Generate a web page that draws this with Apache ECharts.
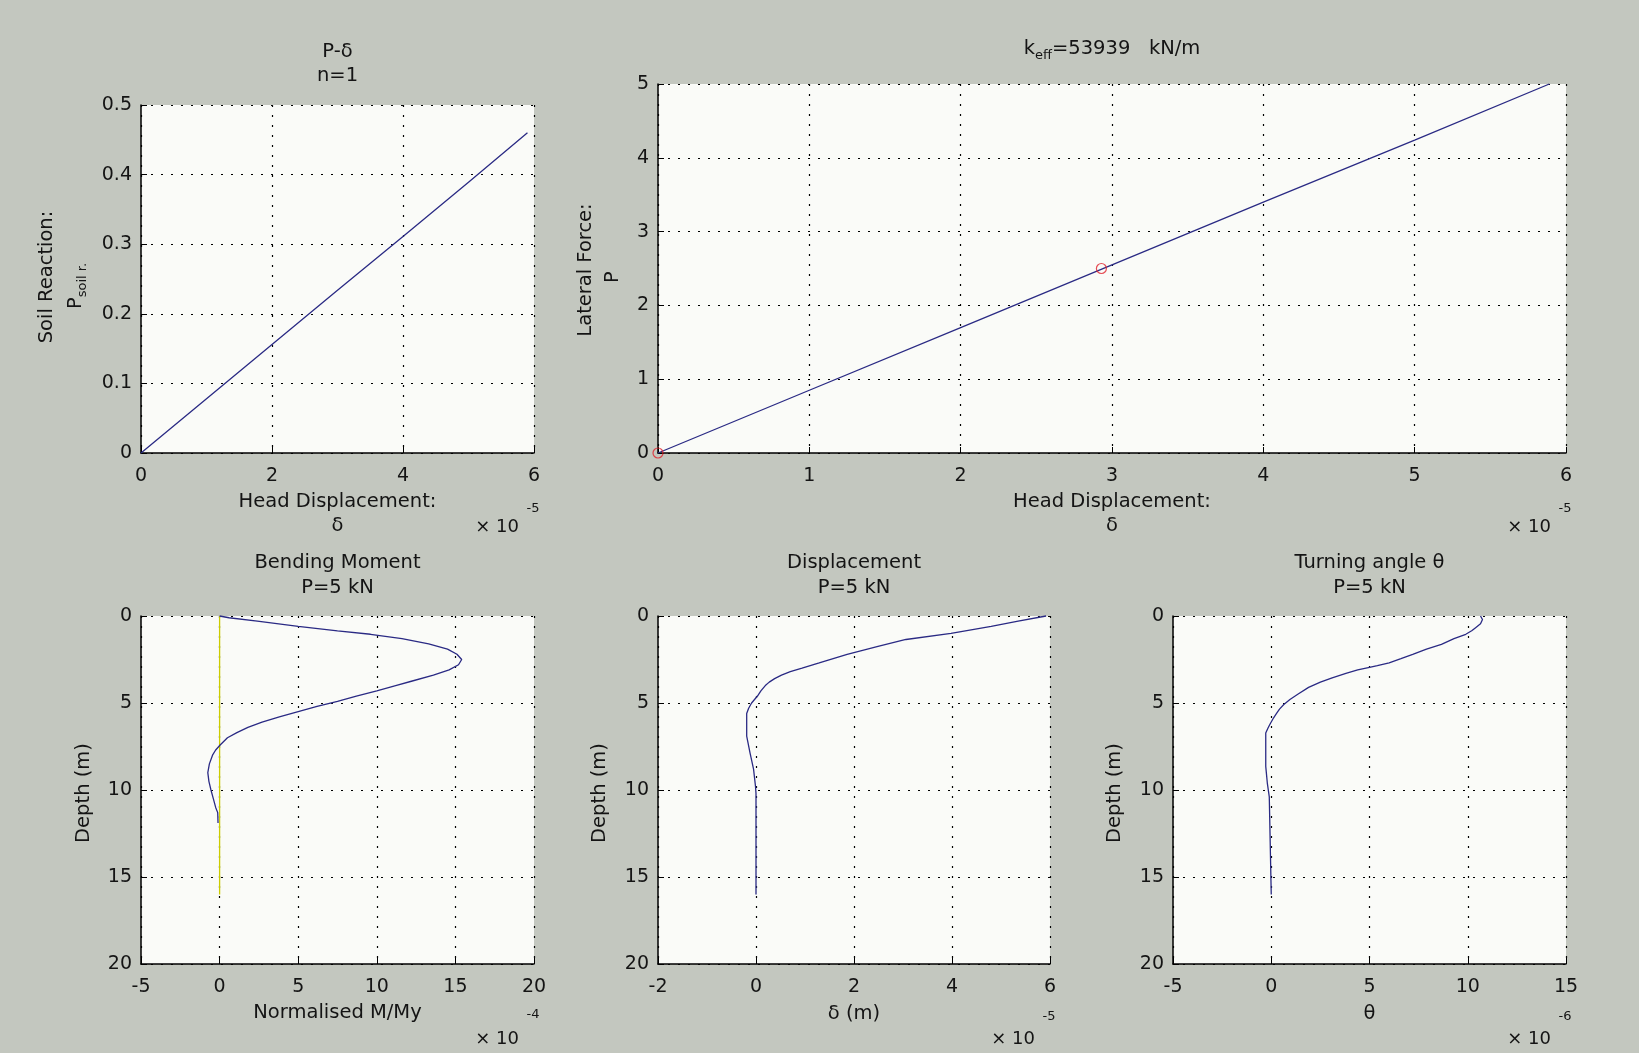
<!DOCTYPE html>
<html>
<head>
<meta charset="utf-8">
<script src="https://cdn.jsdelivr.net/npm/echarts@6/dist/echarts.min.js"></script>
<style>
  html, body { margin: 0; padding: 0; background: #c3c7bf; }
  #fig { width: 1639px; height: 1053px; }
</style>
</head>
<body>
<div id="fig"></div>
<script>
// ---- P-δ curve (δ in units of 1e-5 m) ----
const pdDelta = [0, 1, 2, 3, 4, 5, 5.9];
const pdSoil  = [0, 0.078, 0.156, 0.234, 0.311, 0.389, 0.46];

// ---- Lateral force vs head displacement (δ in units of 1e-5 m) ----
const lfDelta = [0, 1, 2, 3, 4, 5, 5.89];
const lfForce = [0, 0.85, 1.70, 2.55, 3.40, 4.24, 5.0];
const lfMarkDelta = [0, 2.93];
const lfMarkForce = [0, 2.5];

// ---- Bending moment along the pile (M/My in units of 1e-4) ----
const bmDepth  = [0, 0.1, 0.3, 0.6, 0.85, 1.05, 1.3, 1.6, 1.9, 2.2, 2.5, 2.8, 3.1, 3.4, 3.75, 4.0, 4.3, 4.6, 4.9, 5.2, 5.5, 5.8, 6.1, 6.4, 6.7, 7.0, 7.4, 7.7, 8.0, 8.5, 9.0, 9.5, 10.0, 10.5, 11.0, 11.3, 11.9];
const bmMoment = [0, 0.6, 2.4, 5.0, 7.5, 9.6, 11.6, 13.3, 14.5, 15.1, 15.4, 15.2, 14.6, 13.6, 12.2, 11.2, 10.0, 8.7, 7.5, 6.2, 5.0, 3.8, 2.7, 1.8, 1.1, 0.5, 0.05, -0.25, -0.45, -0.65, -0.75, -0.68, -0.55, -0.4, -0.25, -0.12, -0.1];
const pileDepth = [0, 16];
const pileAxis  = [0, 0];

// ---- Pile displacement (δ in units of 1e-5 m) ----
const dpDepth = [0, 0.3, 0.6, 1.0, 1.35, 1.75, 2.2, 2.7, 3.0, 3.2, 3.4, 3.6, 3.8, 4.0, 4.3, 4.6, 4.8, 5.0, 5.3, 5.6, 6.9, 7.9, 8.8, 9.8, 10.2, 16];
const dpDisp  = [5.92, 5.35, 4.8, 3.98, 3.06, 2.49, 1.86, 1.29, 0.94, 0.70, 0.52, 0.38, 0.27, 0.19, 0.10, 0.03, -0.03, -0.09, -0.15, -0.19, -0.19, -0.12, -0.05, -0.01, 0, 0];

// ---- Turning angle (θ in units of 1e-6) ----
const taDepth = [0, 0.2, 0.45, 0.67, 0.85, 1.05, 1.3, 1.63, 1.9, 2.2, 2.45, 2.69, 2.85, 2.95, 3.1, 3.3, 3.55, 3.8, 4.1, 4.5, 4.8, 5.09, 5.35, 5.6, 5.85, 6.05, 6.25, 6.45, 6.72, 8.64, 8.7, 9.6, 9.7, 10.4, 10.5, 16];
const taAngle = [10.65, 10.75, 10.65, 10.4, 10.2, 9.9, 9.3, 8.66, 7.9, 7.2, 6.6, 6.0, 5.4, 5.0, 4.4, 3.8, 3.1, 2.5, 1.9, 1.35, 0.95, 0.64, 0.42, 0.27, 0.12, 0.02, -0.08, -0.17, -0.28, -0.28, -0.2, -0.2, -0.1, -0.1, 0, 0];

// ---- axis ranges [min, max, interval] ----
const axPdX = [0, 6, 2],   axPdY = [0, 0.5, 0.1];
const axLfX = [0, 6, 1],   axLfY = [0, 5, 1];
const axBmX = [-5, 20, 5], axDepth = [0, 20, 5];
const axDpX = [-2, 6, 2];
const axTaX = [-5, 15, 5];

const FONT = 'DejaVu Sans';
const INK = '#141414';
const LINE = '#2a2a84';

function pairs(xs, ys) { return xs.map((x, i) => [x, ys[i]]); }

const grids = [
  { left: 141,  top: 105, width: 393, height: 348 },
  { left: 658,  top: 84,  width: 908, height: 369 },
  { left: 141,  top: 616, width: 393, height: 348 },
  { left: 658,  top: 616, width: 392, height: 348 },
  { left: 1173, top: 616, width: 393, height: 348 }
].map(g => Object.assign({
  show: true, backgroundColor: '#fafbf8', borderWidth: 0,
  containLabel: false, outerBoundsMode: 'none'
}, g));

function axisBase(gi, r) {
  return {
    type: 'value', gridIndex: gi, min: r[0], max: r[1], interval: r[2],
    axisLine: { show: true, onZero: false, lineStyle: { color: '#000', width: 1.5 } },
    axisTick: { show: true, inside: true, length: 6, lineStyle: { color: '#000', width: 1 } },
    axisLabel: { color: INK, fontFamily: FONT, fontSize: 19 },
    splitLine: { show: true, lineStyle: { color: '#000', width: 1.2, type: [2, 8] } }
  };
}
function xAxis(gi, r) {
  const a = axisBase(gi, r);
  a.position = 'bottom';
  a.axisLabel.margin = 14;
  return a;
}
function yAxis(gi, r, inverse) {
  const a = axisBase(gi, r);
  a.position = 'left';
  a.inverse = !!inverse;
  a.axisLabel.margin = 9;
  return a;
}

function lineSeries(xi, data, color) {
  return {
    type: 'line', xAxisIndex: xi, yAxisIndex: xi, data: data,
    showSymbol: false, symbol: 'none', clip: false, silent: true,
    lineStyle: { color: color || LINE, width: 1.3 }
  };
}

// text helpers
function label(x, y, text, opt) {
  return {
    type: 'text', x: x, y: y, rotation: (opt && opt.rot) || 0, silent: true,
    style: Object.assign({
      text: text, fill: INK, fontFamily: FONT, fontSize: 19.5,
      align: 'center', verticalAlign: 'middle', lineHeight: 24.5
    }, (opt && opt.style) || {})
  };
}
const subRich = {
  m: { fill: INK, fontFamily: FONT, fontSize: 19.5, lineHeight: 27, verticalAlign: 'middle' },
  s: { fill: INK, fontFamily: FONT, fontSize: 13, verticalAlign: 'bottom' }
};
function expLabel(right, yBase, yExp, exp) {
  return [
    label(right - 37, yBase, '× 10', { style: { fontSize: 18 } }),
    label(right - 1, yExp, exp, { style: { fontSize: 13 } })
  ];
}

const ROT = Math.PI / 2;
const graphics = [
  // titles
  label(337.5, 64, 'P-δ\nn=1'),
  label(1112, 49, '{m|k}{s|eff}{m|=53939   kN/m}', { style: { rich: subRich } }),
  label(337.5, 575.5, 'Bending Moment\nP=5 kN'),
  label(854, 575.5, 'Displacement\nP=5 kN'),
  label(1369.5, 575.5, 'Turning angle θ\nP=5 kN'),
  // x axis names
  label(337.5, 514, 'Head Displacement:\nδ'),
  label(1112, 514, 'Head Displacement:\nδ'),
  label(337.5, 1013, 'Normalised M/My'),
  label(854, 1014, 'δ (m)'),
  label(1369.5, 1014, 'θ'),
  // y axis names
  label(47, 277, 'Soil Reaction:', { rot: ROT }),
  label(76, 286, '{m|P}{s|soil r.}', { rot: ROT, style: { rich: subRich } }),
  label(586, 270, 'Lateral Force:', { rot: ROT }),
  label(613, 277, 'P', { rot: ROT }),
  label(84, 793, 'Depth (m)', { rot: ROT }),
  label(600, 793, 'Depth (m)', { rot: ROT }),
  label(1115, 793, 'Depth (m)', { rot: ROT })
].concat(
  expLabel(534, 527, 509, '-5'),
  expLabel(1566, 527, 509, '-5'),
  expLabel(534, 1039, 1015, '-4'),
  expLabel(1050, 1039, 1017, '-5'),
  expLabel(1566, 1039, 1017, '-6')
);

const option = {
  backgroundColor: '#c3c7bf',
  animation: false,
  grid: grids,
  xAxis: [xAxis(0, axPdX), xAxis(1, axLfX), xAxis(2, axBmX), xAxis(3, axDpX), xAxis(4, axTaX)],
  yAxis: [yAxis(0, axPdY), yAxis(1, axLfY), yAxis(2, axDepth, true), yAxis(3, axDepth, true), yAxis(4, axDepth, true)],
  series: [
    lineSeries(0, pairs(pdDelta, pdSoil)),
    lineSeries(1, pairs(lfDelta, lfForce)),
    {
      type: 'scatter', xAxisIndex: 1, yAxisIndex: 1, clip: false, silent: true,
      data: pairs(lfMarkDelta, lfMarkForce), symbol: 'circle', symbolSize: 10, z: 5,
      itemStyle: { color: 'rgba(0,0,0,0)', borderColor: '#e0202c', borderWidth: 1.2 }
    },
    lineSeries(2, pairs(pileAxis, pileDepth), '#cccc00'),
    lineSeries(2, pairs(bmMoment, bmDepth)),
    lineSeries(3, pairs(dpDisp, dpDepth)),
    lineSeries(4, pairs(taAngle, taDepth))
  ],
  graphic: graphics
};

const chart = echarts.init(document.getElementById('fig'), null, { renderer: 'canvas' });
chart.setOption(option);
</script>
</body>
</html>
